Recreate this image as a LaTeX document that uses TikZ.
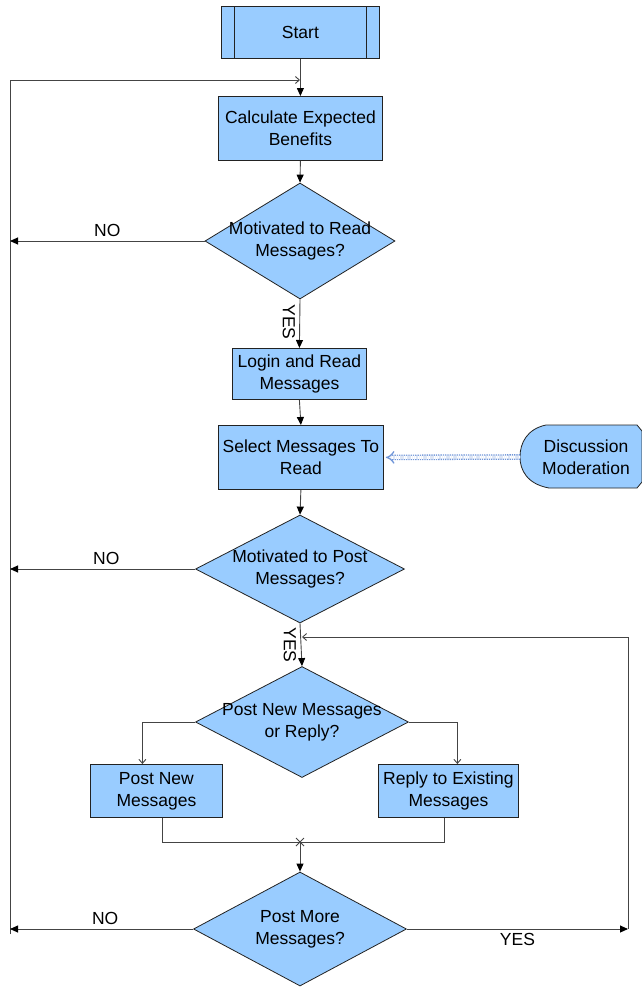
\documentclass[tikz,border=0pt]{standalone}
\usepackage{fontspec}
\setmainfont{Liberation Sans}
\usetikzlibrary{shapes.geometric,arrows.meta,calc}
\definecolor{boxfill}{HTML}{99CCFF}
\definecolor{boxline}{HTML}{222222}
\definecolor{conn}{HTML}{444444}
\definecolor{dmblue}{HTML}{6F95D8}
\tikzset{
  txt/.style={font=\fontsize{17.5}{22}\selectfont, align=center, inner sep=0pt},
  procbox/.style={draw=boxline, fill=boxfill, line width=0.8pt, inner sep=0pt, anchor=north west},
  decbox/.style={diamond, draw=boxline, fill=boxfill, line width=0.8pt, inner sep=0pt},
  flow/.style={draw=conn, line width=0.9pt},
  fillarrow/.style={-{Triangle[width=7pt,length=8pt,color=black]}},
  openarrow/.style={-{Straight Barb[length=4pt,width=7pt]}},
  lbl/.style={font=\fontsize{17.5}{22}\selectfont, inner sep=0pt},
}
\begin{document}
\begin{tikzpicture}[x=1pt,y=-1pt]
\useasboundingbox (0,0) rectangle (642,988);

% process boxes
\node[procbox, minimum width=158pt, minimum height=52pt] (start) at (221,6) {};
\draw[boxline, line width=0.8pt] (234,6) -- (234,58) (366,6) -- (366,58);
\node[txt] (startt) at (start.center) {Start};

\node[procbox, minimum width=164pt, minimum height=64pt] (calc) at (218,96) {};
\node[txt] (calct) at (calc.center) {Calculate Expected\\Benefits};

\node[decbox, minimum width=190pt, minimum height=116pt] (d1) at (300,241) {};
\node[txt] (d1t) at (d1.center) {Motivated to Read\\Messages?};

\node[procbox, minimum width=134pt, minimum height=51pt] (login) at (232,348) {};
\node[txt] (logint) at (login.center) {Login and Read\\Messages};

\node[procbox, minimum width=165pt, minimum height=64pt] (select) at (218,425) {};
\node[txt] (selectt) at (select.center) {Select Messages To\\Read};

\node[decbox, minimum width=209pt, minimum height=108pt] (d2) at (300,569) {};
\node[txt] (d2t) at (d2.center) {Motivated to Post\\Messages?};

\node[decbox, minimum width=213pt, minimum height=111pt] (d3) at (302,722) {};
\node[txt] (d3t) at (d3.center) {Post New Messages\\or Reply?};

\node[procbox, minimum width=132pt, minimum height=53pt] (pn) at (90,764) {};
\node[txt] (pnt) at (pn.center) {Post New\\Messages};

\node[procbox, minimum width=140pt, minimum height=53pt] (rp) at (378,764) {};
\node[txt] (rpt) at (rp.center) {Reply to Existing\\Messages};

\node[decbox, minimum width=213pt, minimum height=114pt] (d4) at (300,929) {};
\node[txt] (d4t) at (d4.center) {Post More\\Messages?};

% discussion moderation
\draw[boxline, fill=boxfill, line width=0.8pt]
  (546,425) -- (637,425) -- (642,431) -- (642,482) -- (637,488) -- (549,488)
  .. controls (527,484) and (520,470) .. (520,457)
  .. controls (520,443) and (527,429) .. (546,425) -- cycle;
\coordinate (dmw) at (520,457);
\node[txt] (dmt) at (586,457) {Discussion\\Moderation};

% coordinates
\coordinate (tl) at (10,80);
\coordinate (tj) at (300,80);
\coordinate (bl) at (10,934);
\coordinate (l1) at (10,241);
\coordinate (l2) at (10,569);
\coordinate (l4) at (10,929);
\coordinate (r4) at (628,929);
\coordinate (rt) at (628,637);
\coordinate (lj) at (302,637);
\coordinate (jn) at (300,842);

% connectors
\draw[flow, fillarrow] (start.south) -- (calc.north);
\draw[flow] (bl) -- (tl);
\draw[flow, openarrow] (tl) -- (tj);
\draw[flow, fillarrow] (calc.south) -- (d1.north);
\draw[flow, fillarrow] (d1.west) -- node[lbl, above=4pt, pos=0.5] (no1) {NO} (l1);
\draw[flow, fillarrow] (d1.south) -- (login.north);
\node[lbl, rotate=-90] (yes1) at (289,322) {YES};
\draw[flow, fillarrow] (login.south) -- (select.north);
\draw[flow, fillarrow] (select.south) -- (d2.north);
\draw[dmblue, double=white, double distance=3pt, line width=1.3pt, densely dotted, -{Implies[length=8pt]}] (dmw) -- ([xshift=2pt]select.east);
\draw[flow, fillarrow] (d2.west) -- node[lbl, above=4pt, pos=0.48] (no2) {NO} (l2);
\draw[flow, fillarrow] (d2.south) -- (d3.north);
\node[lbl, rotate=-90] (yes2) at (290,645) {YES};
\draw[flow, openarrow] (d3.west) -| ([xshift=-14pt]pn.north);
\draw[flow, openarrow] (d3.east) -| ([xshift=9pt]rp.north);
\draw[flow] ([xshift=6pt]pn.south) |- (jn) -| ([xshift=-4pt]rp.south);
\draw[conn, line width=0.9pt] ($(jn)+(-4,-4)$) -- ($(jn)+(4,4)$) ($(jn)+(-4,4)$) -- ($(jn)+(4,-4)$);
\draw[flow, fillarrow] (jn) -- (d4.north);
\draw[flow, fillarrow] (d4.west) -- node[lbl, above=4pt, pos=0.48] (no4) {NO} (l4);
\draw[flow, fillarrow] (d4.east) -- node[lbl, below=4pt, pos=0.5] (yes4) {YES} (r4);
\draw[flow] (r4) -- (rt);
\draw[flow, openarrow] (rt) -- (lj);
\end{tikzpicture}
\end{document}
